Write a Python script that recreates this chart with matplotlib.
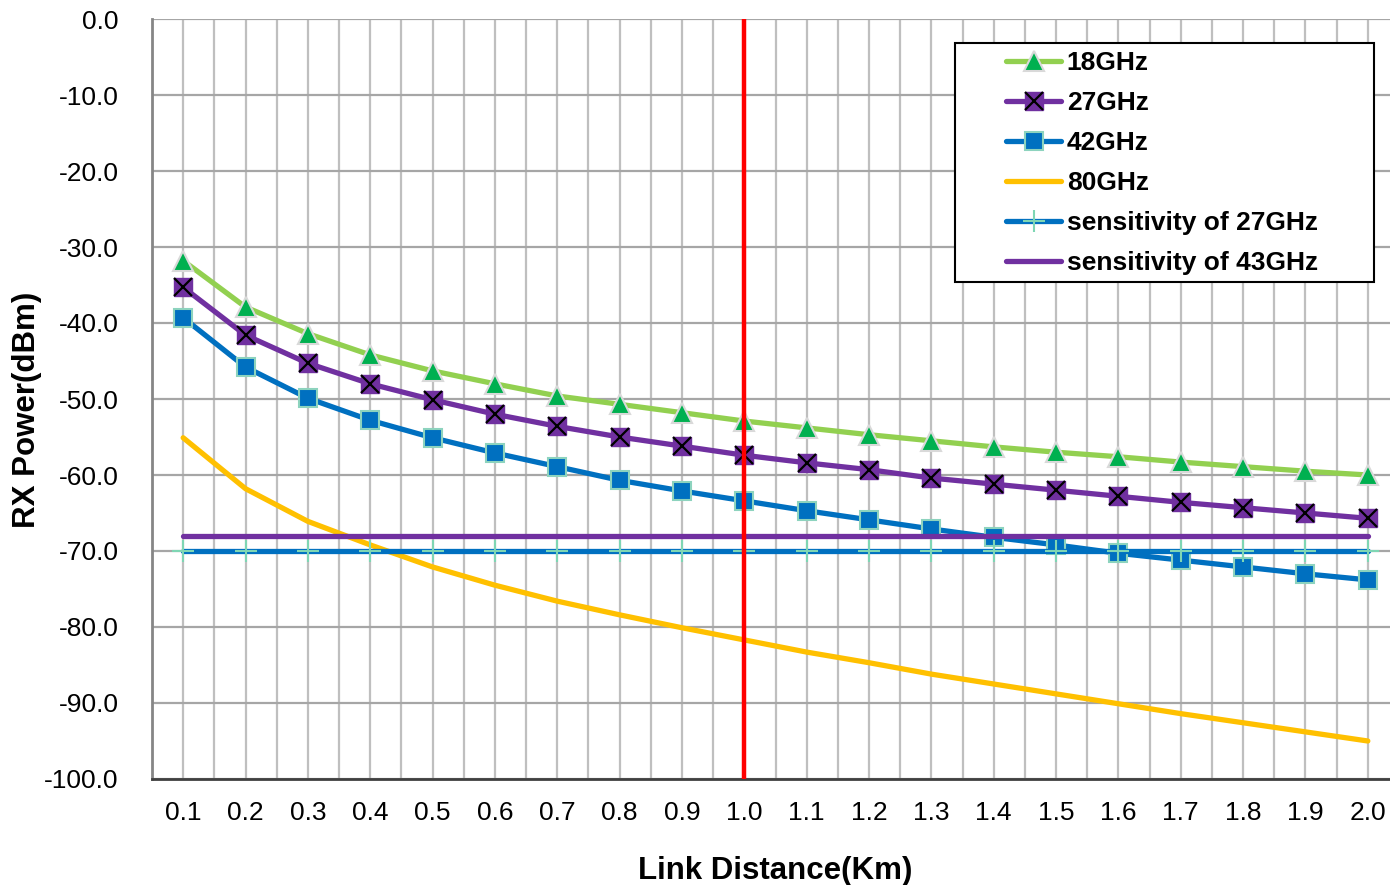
"""RX power vs link distance for several mmWave bands, with receiver sensitivity lines."""
import matplotlib
matplotlib.use("Agg")
matplotlib.rcParams["font.family"] = ["Liberation Sans", "DejaVu Sans"]
matplotlib.rcParams["axes.unicode_minus"] = False
import matplotlib.pyplot as plt
from matplotlib.patches import Rectangle
from matplotlib.ticker import FormatStrFormatter, MultipleLocator
import numpy as np

distance_km = [0.1, 0.2, 0.3, 0.4, 0.5, 0.6, 0.7, 0.8, 0.9, 1.0,
               1.1, 1.2, 1.3, 1.4, 1.5, 1.6, 1.7, 1.8, 1.9, 2.0]
rx_18ghz = [-31.8, -37.9, -41.4, -44.2, -46.3, -48.0, -49.6, -50.7, -51.8, -52.9,
            -53.8, -54.7, -55.5, -56.3, -57.0, -57.6, -58.3, -58.9, -59.5, -60.0]
rx_27ghz = [-35.3, -41.6, -45.3, -48.0, -50.1, -52.0, -53.6, -55.0, -56.2, -57.4,
            -58.4, -59.3, -60.4, -61.2, -62.0, -62.8, -63.6, -64.3, -65.0, -65.7]
rx_42ghz = [-39.3, -45.8, -49.9, -52.8, -55.1, -57.1, -58.9, -60.7, -62.1, -63.4,
            -64.7, -65.9, -67.1, -68.2, -69.2, -70.3, -71.2, -72.1, -73.0, -73.8]
rx_80ghz = [-55.1, -61.8, -66.1, -69.2, -72.1, -74.5, -76.6, -78.4, -80.1, -81.7,
            -83.3, -84.7, -86.2, -87.5, -88.8, -90.1, -91.4, -92.6, -93.8, -95.0]
sens_27ghz = [-70.0] * len(distance_km)
sens_43ghz = [-68.0] * len(distance_km)
marker_distance = 1.0

W, H = 1390, 885
fig = plt.figure(figsize=(W / 100, H / 100), dpi=100)
# plot area in pixels: x 152..1399 (cropped on the right), y 19..779
ax = fig.add_axes([152 / W, 1 - 779 / H, (1399 - 152) / W, (779 - 19) / H])

x = np.array(distance_km)
lw = 3.8
ms = 13.5

l18, = ax.plot(x, rx_18ghz, color="#92D050", lw=lw, solid_capstyle="round",
               marker="^", ms=ms + 1, mfc="#00B050", mec="#D9D9D9", mew=1.5, zorder=3)
l27, = ax.plot(x, rx_27ghz, color="#7030A0", lw=lw, solid_capstyle="round",
               marker="s", ms=ms, mfc="#7030A0", mec="#7030A0", mew=1, zorder=3)
x27, = ax.plot(x, rx_27ghz, ls="none", marker="x", ms=ms - 1, mec="black", mew=1.6, zorder=3.1)
l42, = ax.plot(x, rx_42ghz, color="#0070C0", lw=lw, solid_capstyle="round",
               marker="s", ms=ms, mfc="#0070C0", mec="#8DD3BE", mew=1.5, zorder=3.2)
l80, = ax.plot(x, rx_80ghz, color="#FFC000", lw=lw, solid_capstyle="round", zorder=3.3)
ls27, = ax.plot(x, sens_27ghz, color="#0070C0", lw=lw, solid_capstyle="round",
                marker="+", ms=ms + 3, mec="#7FD6B4", mew=1.5, zorder=3.4)
ls43, = ax.plot(x, sens_43ghz, color="#7030A0", lw=lw, solid_capstyle="round", zorder=3.5)

ax.axvline(marker_distance, color="#FF0000", lw=3.2, zorder=4)

ax.set_xlim(0.05, 2.05)
ax.set_ylim(-100, 0)
ax.set_xticks(x)
ax.set_xticklabels([f"{d:.1f}" for d in distance_km])
ax.set_xticks(x - 0.05, minor=True)
ax.yaxis.set_major_locator(MultipleLocator(10))
ax.yaxis.set_major_formatter(FormatStrFormatter("%.1f"))

ax.grid(axis="x", which="both", color="#BFBFBF", lw=1.6, zorder=0)
ax.grid(axis="y", which="major", color="#A6A6A6", lw=1.6, zorder=0)
ax.set_axisbelow(True)

for s in ("top", "right"):
    ax.spines[s].set_visible(False)
ax.spines["left"].set_color("#868686")
ax.spines["left"].set_linewidth(2)
ax.spines["bottom"].set_color("#404040")
ax.spines["bottom"].set_linewidth(2)

ax.tick_params(axis="both", which="both", length=0, labelsize=19)
ax.tick_params(axis="x", pad=16)
ax.tick_params(axis="y", pad=24)

ax.set_xlabel("Link Distance(Km)", fontsize=22.5, fontweight="bold", labelpad=22)
ax.set_ylabel("RX Power(dBm)", fontsize=22.5, fontweight="bold")
ax.yaxis.set_label_coords((42 - 152) / 1247, (779 - 410) / 760)

# legend frame drawn separately (Excel style padding)
fig.patches.append(Rectangle((955 / W, 1 - 282 / H), 419 / W, 239 / H,
                             transform=fig.transFigure, facecolor="white",
                             edgecolor="black", lw=1.5, zorder=5))
leg = fig.legend([l18, (l27, x27), l42, l80, ls27, ls43],
                 ["18GHz", "27GHz", "42GHz", "80GHz", "sensitivity of 27GHz", "sensitivity of 43GHz"],
                 loc="upper left", bbox_to_anchor=(1006 / W, 1 - 51 / H),
                 bbox_transform=fig.transFigure, frameon=False, numpoints=1,
                 prop={"size": 19, "weight": "bold"}, handlelength=2.1,
                 handletextpad=0.2, labelspacing=0.61, borderpad=0, borderaxespad=0)
leg.set_zorder(6)

fig.savefig("out.png", dpi=100)
